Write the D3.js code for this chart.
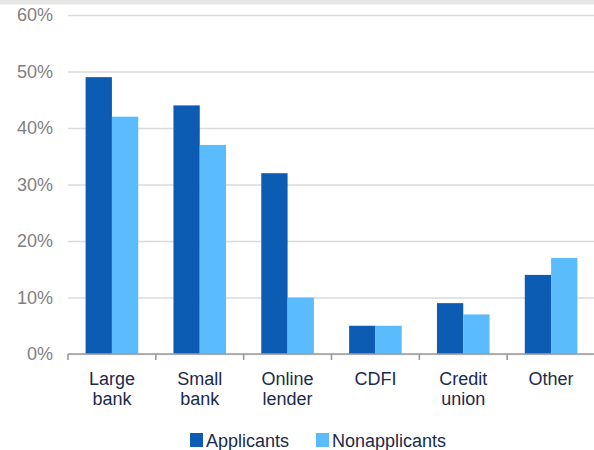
<!DOCTYPE html>
<html>
<head>
<meta charset="utf-8">
<script src="https://cdn.jsdelivr.net/npm/d3@7/dist/d3.min.js"></script>
<style>
  html, body { margin: 0; padding: 0; background: #fff; }
  svg { display: block; font-family: "Liberation Sans", Arial, sans-serif; }
</style>
</head>
<body>
<script>
// Lender types applied to (share of firms), by applicant status
const categories = [["Large", "bank"], ["Small", "bank"], ["Online", "lender"], ["CDFI"], ["Credit", "union"], ["Other"]];
const seriesNames = ["Applicants", "Nonapplicants"];
const applicants = [49, 44, 32, 5, 9, 14];
const nonapplicants = [42, 37, 10, 5, 7, 17];
const yTicks = [0, 10, 20, 30, 40, 50, 60];
const colors = ["#0b5cb2", "#5bbcfd"];

const W = 594, H = 450;
const margin = { top: 15, right: 0, bottom: 96, left: 68 };

const svg = d3.select("body").append("svg").attr("width", W).attr("height", H);

// thin grey band along the top edge
svg.append("rect").attr("x", 0).attr("y", 0).attr("width", W).attr("height", 4.5).attr("fill", "#e7e7e7");

const x0 = d3.scaleBand()
  .domain(d3.range(categories.length))
  .range([margin.left, W - margin.right + 1])
  .paddingInner(0)
  .paddingOuter(0);

const x1 = d3.scaleBand()
  .domain(seriesNames)
  .range([0, x0.bandwidth()])
  .paddingInner(0)
  .paddingOuter(0.67);

const y = d3.scaleLinear().domain([0, 60]).range([H - margin.bottom, margin.top]);

// horizontal gridlines and percentage labels
const yAxis = d3.axisLeft(y)
  .tickValues(yTicks)
  .tickSize(-(W - margin.left))
  .tickPadding(15)
  .tickFormat(d => d + "%");

const gy = svg.append("g").attr("transform", `translate(${margin.left},0)`).call(yAxis);
gy.select(".domain").remove();
gy.selectAll(".tick line").attr("stroke", "#dadada").attr("stroke-width", 1.6);
gy.selectAll(".tick text")
  .attr("fill", "#808080")
  .attr("font-size", 18)
  .attr("font-family", "Liberation Sans, Arial, sans-serif");

// grouped bars
const rows = categories.map((c, i) => ({ i, values: [applicants[i], nonapplicants[i]] }));
const groups = svg.append("g").selectAll("g").data(rows).join("g")
  .attr("transform", d => `translate(${x0(d.i)},0)`);

groups.selectAll("rect")
  .data(d => d.values.map((v, k) => ({ key: seriesNames[k], v, k })))
  .join("rect")
  .attr("x", d => x1(d.key))
  .attr("width", x1.bandwidth())
  .attr("y", d => y(d.v))
  .attr("height", d => y(0) - y(d.v))
  .attr("fill", d => colors[d.k]);

// category axis with boundary ticks
const base = y(0);
const gx = svg.append("g");
gx.append("line")
  .attr("x1", margin.left).attr("x2", W)
  .attr("y1", base).attr("y2", base)
  .attr("stroke", "#9a9a9a").attr("stroke-width", 1.6);
gx.selectAll("line.tick")
  .data(d3.range(categories.length))
  .join("line")
  .attr("class", "tick")
  .attr("x1", i => x0(i)).attr("x2", i => x0(i))
  .attr("y1", base).attr("y2", base + 6)
  .attr("stroke", "#9a9a9a").attr("stroke-width", 1.6);

const labels = gx.selectAll("text.cat")
  .data(categories.map((c, i) => ({ c, i })))
  .join("text")
  .attr("class", "cat")
  .attr("x", d => x0(d.i) + x0.bandwidth() / 2)
  .attr("y", base + 31)
  .attr("text-anchor", "middle")
  .attr("fill", "#1b2b4b")
  .attr("font-size", 18);
labels.selectAll("tspan")
  .data(d => d.c.map(line => ({ line, x: x0(d.i) + x0.bandwidth() / 2 })))
  .join("tspan")
  .attr("x", d => d.x)
  .attr("dy", (d, j) => j === 0 ? 0 : 20)
  .text(d => d.line);

// legend
const legend = svg.append("g").attr("transform", "translate(190,433)");
const legendX = [0, 126];
seriesNames.forEach((name, k) => {
  const g = legend.append("g").attr("transform", `translate(${legendX[k]},0)`);
  g.append("rect").attr("width", 13).attr("height", 14).attr("fill", colors[k]);
  g.append("text")
    .attr("x", 16).attr("y", 13.5)
    .attr("fill", "#1b2b4b")
    .attr("font-size", 18)
    .text(name);
});
</script>
</body>
</html>
